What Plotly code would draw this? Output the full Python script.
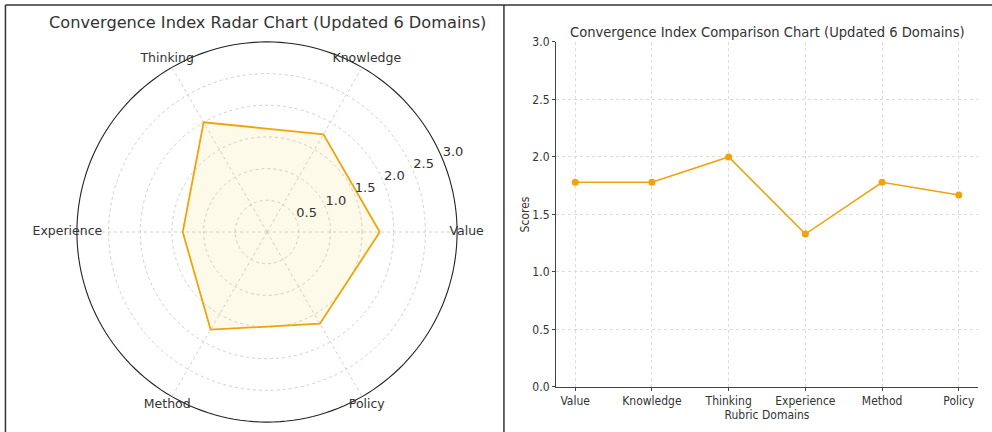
import plotly.graph_objects as go

categories = ["Value", "Knowledge", "Thinking", "Experience", "Method", "Policy"]
scores = [1.78, 1.78, 2.0, 1.33, 1.78, 1.67]
radial_ticks = [0.5, 1.0, 1.5, 2.0, 2.5, 3.0]
y_ticks = [0.0, 0.5, 1.0, 1.5, 2.0, 2.5, 3.0]

LINE = "#F0A30A"
FILL = "rgba(245,205,40,0.10)"
TXT = "#333333"
GRID = "#d0d0d0"
FONT = "DejaVu Sans"
NARROW = "DejaVu Sans Condensed, Liberation Sans Narrow, DejaVu Sans"

R_MAX = max(radial_ticks)
step = 360 / len(categories)
angles = [i * step for i in range(len(categories))]
LABEL_R = R_MAX * 1.05      # matplotlib-style label radius
RANGE_MAX = LABEL_R * 1.002
RLABEL_ANGLE = 22.5         # matplotlib default rlabel position

fig = go.Figure()

# spokes (angular grid) ending at the outer circle
spoke_r, spoke_t = [], []
for a in angles:
    spoke_r += [0, R_MAX, None]
    spoke_t += [a, a, None]
fig.add_trace(go.Scatterpolar(
    r=spoke_r, theta=spoke_t, mode="lines",
    line=dict(color=GRID, width=1, dash="dot"),
    showlegend=False, hoverinfo="skip", connectgaps=False,
))

# outer frame circle at r = R_MAX
circ_t = list(range(0, 361, 2))
fig.add_trace(go.Scatterpolar(
    r=[R_MAX] * len(circ_t), theta=circ_t, mode="lines",
    line=dict(color="#222222", width=1.1),
    showlegend=False, hoverinfo="skip",
))

fig.add_trace(go.Scatterpolar(
    r=scores + scores[:1],
    theta=angles + angles[:1],
    mode="lines",
    line=dict(color=LINE, width=1.8),
    fill="toself",
    fillcolor=FILL,
    showlegend=False,
    hoverinfo="skip",
))

# radial tick labels (horizontal, beside the 22.5 deg spoke)
fig.add_trace(go.Scatterpolar(
    r=radial_ticks,
    theta=[RLABEL_ANGLE] * len(radial_ticks),
    mode="text",
    text=[f"{v:.1f}" for v in radial_ticks],
    textposition="top right",
    textfont=dict(size=13, color=TXT, family=FONT),
    showlegend=False, hoverinfo="skip", cliponaxis=False,
))

# angular category labels centred on the outer circle
fig.add_trace(go.Scatterpolar(
    r=[LABEL_R] * len(categories),
    theta=angles,
    mode="text",
    text=categories,
    textposition="middle center",
    textfont=dict(size=12.5, color=TXT, family=FONT),
    showlegend=False, hoverinfo="skip", cliponaxis=False,
))

fig.add_trace(go.Scatter(
    x=categories, y=scores,
    mode="lines+markers",
    line=dict(color=LINE, width=1.6),
    marker=dict(color=LINE, size=7),
    showlegend=False,
    xaxis="x", yaxis="y",
))

RAD = 200
fig.update_layout(
    width=992, height=432,
    margin=dict(l=0, r=0, t=0, b=0),
    paper_bgcolor="white",
    plot_bgcolor="white",
    font=dict(family=FONT, color=TXT),
    polar=dict(
        domain=dict(x=[(267 - RAD) / 992, (267 + RAD) / 992], y=[0, 2 * RAD / 432]),
        bgcolor="rgba(0,0,0,0)",
        angularaxis=dict(
            direction="counterclockwise", rotation=0, thetaunit="degrees",
            tickmode="array", tickvals=angles, ticktext=categories,
            showticklabels=False, showgrid=False,
            showline=False, ticks="",
        ),
        radialaxis=dict(
            range=[0, RANGE_MAX], angle=RLABEL_ANGLE,
            tickvals=radial_ticks[:-1], showticklabels=False,
            showline=False, ticks="",
            gridcolor=GRID, griddash="dot", gridwidth=1,
        ),
    ),
    xaxis=dict(
        domain=[0.5605, 0.9859],
        range=[-0.25, 5.25],
        showline=True, linecolor="#444444", linewidth=1.2,
        showgrid=True, gridcolor="#dddddd", griddash="dot", gridwidth=1,
        ticks="outside", ticklen=3, tickcolor="#444444",
        tickfont=dict(size=12, color=TXT, family=NARROW),
        title=dict(text="Rubric Domains", font=dict(size=12, color=TXT, family=NARROW), standoff=0),
        zeroline=False, automargin=False,
    ),
    yaxis=dict(
        domain=[0.1042, 0.9028],
        range=[0, 3],
        tickvals=y_ticks, ticktext=[f"{v:.1f}" for v in y_ticks],
        showline=True, linecolor="#444444", linewidth=1.2,
        showgrid=True, gridcolor="#dddddd", griddash="dot", gridwidth=1,
        ticks="outside", ticklen=3, tickcolor="#444444",
        tickfont=dict(size=12, color=TXT, family=NARROW),
        title=dict(text="Scores", font=dict(size=12, color=TXT, family=NARROW), standoff=0),
        zeroline=False, automargin=False,
    ),
    annotations=[
        dict(text="Convergence Index Radar Chart (Updated 6 Domains)",
             x=0.2695, y=1 - 22 / 432, xref="paper", yref="paper",
             xanchor="center", yanchor="middle", showarrow=False,
             font=dict(size=16.2, color=TXT, family=FONT)),
        dict(text="Convergence Index Comparison Chart (Updated 6 Domains)",
             x=0.7732, y=1 - 31 / 432, xref="paper", yref="paper",
             xanchor="center", yanchor="middle", showarrow=False,
             font=dict(size=14.6, color=TXT, family=NARROW)),
    ],
    shapes=[
        dict(type="line", xref="paper", yref="paper", x0=0.0055, x1=1, y0=1 - 5 / 432, y1=1 - 5 / 432,
             line=dict(color="#333333", width=1.5)),
        dict(type="line", xref="paper", yref="paper", x0=0.0055, x1=0.0055, y0=0, y1=1 - 5 / 432,
             line=dict(color="#333333", width=1.5)),
        dict(type="line", xref="paper", yref="paper", x0=0.508, x1=0.508, y0=0, y1=1 - 5 / 432,
             line=dict(color="#333333", width=1.5)),
    ],
)

fig.write_html("out.html", config={"displayModeBar": False},
               post_script="document.body.style.margin='0';document.body.style.overflow='hidden';")
